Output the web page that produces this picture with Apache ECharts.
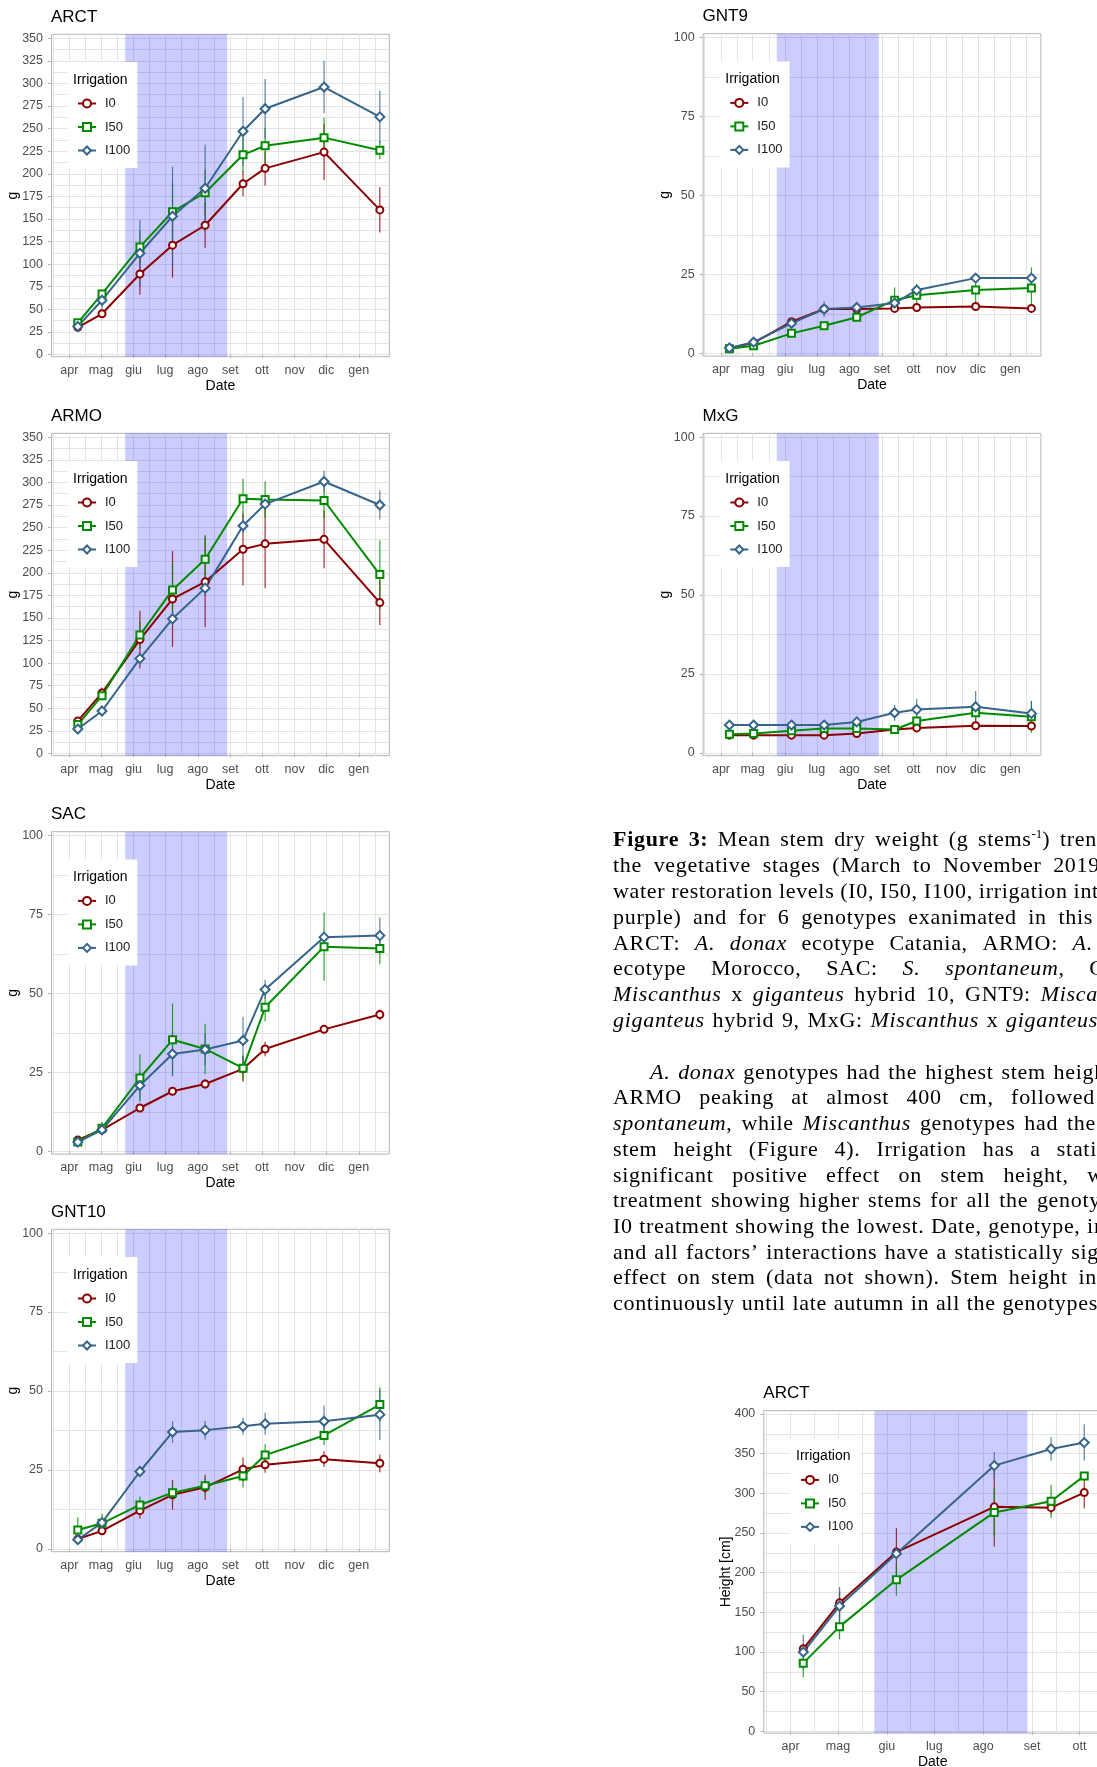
<!DOCTYPE html>
<html>
<head>
<meta charset="utf-8">
<title>Figure 3</title>
<script src="https://cdn.jsdelivr.net/npm/echarts@6.0.0/dist/echarts.min.js"></script>
<style>
  html, body { margin: 0; padding: 0; background: #fff; overflow: hidden; }
  #chart { position: absolute; left: 0; top: 0; width: 1097px; height: 1767px; }
  .cap { position: absolute; display: flex; justify-content: space-between; white-space: nowrap;
         font-family: 'Liberation Serif', 'Times New Roman', serif; font-size: 22px; letter-spacing: 0.7px;
         line-height: 26px; height: 26px; color: #000; }
  .cap sup { font-size: 13px; line-height: 0; letter-spacing: 0; }
</style>
</head>
<body>
<div id="chart"></div>
<div id="caption"></div>
<script>
// sampling dates
var sampleDates = ['2019-04-09', '2019-05-02', '2019-06-07', '2019-07-08', '2019-08-08',
                   '2019-09-13', '2019-10-04', '2019-11-29', '2020-01-21'];
var heightDates = ['2019-04-09', '2019-05-02', '2019-06-07', '2019-08-08', '2019-09-13', '2019-10-04'];
var monthStarts = ['2019-03-01', '2019-04-01', '2019-05-01', '2019-06-01', '2019-07-01', '2019-08-01',
                   '2019-09-01', '2019-10-01', '2019-11-01', '2019-12-01', '2020-01-01', '2020-02-01'];
var monthLabels = ['mar', 'apr', 'mag', 'giu', 'lug', 'ago', 'set', 'ott', 'nov', 'dic', 'gen', 'feb'];
var irrigationPeriod = ['2019-05-24', '2019-08-29'];
var irrigationLevels = ['I0', 'I50', 'I100'];

// stem dry weight (g), rows = I0, I50, I100
var arctMean = [[30, 45, 89, 121, 143, 189, 206, 224, 160],
                [35, 67, 119, 158, 179, 221, 231, 240, 226],
                [31, 60, 112, 153, 184, 247, 272, 296, 263]];
var arctErr  = [[3, 4, 23, 36, 25, 14, 19, 31, 25],
                [3, 5, 18, 32, 26, 20, 20, 22, 10],
                [3, 10, 37, 55, 48, 38, 33, 29, 29]];

var armoMean = [[36, 67, 126, 171, 190, 226, 232, 237, 167],
                [32, 64, 131, 181, 215, 282, 281, 280, 198],
                [27, 47, 105, 149, 183, 252, 276, 301, 275]];
var armoErr  = [[4, 6, 32, 53, 50, 40, 49, 32, 25],
                [4, 5, 15, 30, 27, 22, 20, 20, 38],
                [3, 4, 5, 8, 8, 8, 6, 12, 16]];

var sacMean  = [[3.6, 6.8, 13.7, 19, 21.3, 26.1, 32.4, 38.6, 43.3],
                [2.9, 7.3, 23.2, 35.3, 32.4, 26.3, 45.6, 64.8, 64.2],
                [2.9, 6.8, 20.8, 30.8, 32.2, 35.1, 51.2, 67.8, 68.3]];
var sacErr   = [[0.5, 0.5, 0.5, 0.8, 1.5, 4, 2.3, 0.8, 1.7],
                [0.5, 2, 7.5, 11.5, 8, 4, 4.5, 10.8, 5],
                [0.5, 1, 4.5, 7, 5, 7.5, 3, 1, 5.7]];

var gnt10Mean = [[3.1, 5.7, 12.1, 17.1, 19.5, 25.2, 26.6, 28.4, 27.1],
                 [6, 8.1, 13.9, 17.8, 20, 23.1, 29.7, 35.9, 45.7],
                 [2.9, 8.3, 24.5, 37, 37.6, 38.8, 39.6, 40.4, 42.5]];
var gnt10Err  = [[0.5, 0.8, 2.5, 4.7, 4, 3.8, 2.5, 2.5, 2.8],
                 [4, 3, 2.7, 2.5, 2.5, 3.7, 3.4, 3, 5.5],
                 [0.5, 1, 1.5, 3.4, 3, 2.7, 3.5, 5, 8]];

var gnt9Mean = [[1.6, 3.3, 10, 14, 14, 14.2, 14.5, 14.8, 14.2],
                [1.4, 2.4, 6.3, 8.7, 11.4, 16.8, 18.4, 20, 20.7],
                [1.7, 3.5, 9.5, 14, 14.5, 15.9, 20, 23.8, 23.8]];
var gnt9Err  = [[0.3, 0.3, 0.5, 0.5, 0.5, 0.5, 0.5, 0.5, 0.5],
                [0.3, 0.3, 0.5, 0.5, 0.8, 4, 3.5, 5, 6.5],
                [0.3, 0.5, 1, 2.5, 1, 1, 1, 1, 2]];

var mxgMean  = [[5.6, 5.6, 5.6, 5.6, 6.1, 7.4, 7.9, 8.6, 8.5],
                [5.9, 6.1, 7, 7.7, 7.7, 7.4, 10.1, 12.7, 11.4],
                [8.8, 8.8, 8.8, 8.8, 9.8, 12.7, 13.7, 14.6, 12.5]];
var mxgErr   = [[1, 0.5, 0.3, 0.3, 0.5, 1, 1, 0.5, 1],
                [1, 0.5, 0.5, 0.5, 0.5, 1, 1.5, 3, 5],
                [0.5, 0.5, 0.5, 0.5, 0.5, 2.5, 3.4, 5, 4]];

// stem height (cm), ARCT
var heightMean = [[104, 162, 226, 283, 282, 301],
                  [86, 132, 191, 276, 290, 322],
                  [100, 158, 224, 335, 356, 364]];
var heightErr  = [[5, 14, 30, 50, 8, 20],
                  [18, 16, 20, 31, 21, 5],
                  [22, 24, 5, 17, 15, 23]];

var FONT = "'Liberation Sans', Arial, sans-serif";
var lineColors = ['#8b0000', '#008b00', '#36648b'];
var symbols = ['emptyCircle', 'emptyRect', 'emptyDiamond'];
var symbolSizes = [7, 7, 9];
var PW = 337.8, PH = 322.4;

var panels = [
    {title: 'ARCT', mean: arctMean, err: arctErr, dates: sampleDates, left: 51.5, top: 34.3, lim: [-2.5, 354.4], yTop: 350, step: 25, yName: 'g', xEnd: '2020-01-30', legendDx: 15.5},
    {title: 'ARMO', mean: armoMean, err: armoErr, dates: sampleDates, left: 51.5, top: 433.3, lim: [-2.5, 354.4], yTop: 350, step: 25, yName: 'g', xEnd: '2020-01-30', legendDx: 15.5},
    {title: 'SAC', mean: sacMean, err: sacErr, dates: sampleDates, left: 51.5, top: 831.7, lim: [-0.9, 101.2], yTop: 100, step: 25, yName: 'g', xEnd: '2020-01-30', legendDx: 15.5},
    {title: 'GNT10', mean: gnt10Mean, err: gnt10Err, dates: sampleDates, left: 51.5, top: 1229.3, lim: [-0.9, 101.2], yTop: 100, step: 25, yName: 'g', xEnd: '2020-01-30', legendDx: 15.5},
    {title: 'GNT9', mean: gnt9Mean, err: gnt9Err, dates: sampleDates, left: 703.1, top: 33.7, lim: [-0.9, 101.2], yTop: 100, step: 25, yName: 'g', xEnd: '2020-01-30', legendDx: 16.2},
    {title: 'MxG', mean: mxgMean, err: mxgErr, dates: sampleDates, left: 703.1, top: 433.3, lim: [-0.9, 101.2], yTop: 100, step: 25, yName: 'g', xEnd: '2020-01-30', legendDx: 16.2},
    {title: 'ARCT', mean: heightMean, err: heightErr, dates: heightDates, left: 763.8, top: 1410.7, lim: [-2.2, 404.2], yTop: 400, step: 50, yName: 'Height [cm]', xEnd: '2019-10-15', legendDx: 26.2}
];

function dayNum(s) {
    var p = s.split('-');
    return (Date.UTC(+p[0], +p[1] - 1, +p[2]) - Date.UTC(2019, 0, 1)) / 86400000 + 1;
}

function seq(a, b, step) {
    var r = [];
    for (var v = a; v <= b + 1e-9; v += step) r.push(+v.toFixed(3));
    return r;
}

function nearest(arr, v) {
    var best = 0;
    for (var k = 1; k < arr.length; k++) {
        if (Math.abs(arr[k] - v) < Math.abs(arr[best] - v)) best = k;
    }
    return best;
}

var monthDays = monthStarts.map(dayNum);

var option = {
    animation: false,
    backgroundColor: '#fff',
    title: [], legend: [], grid: [], xAxis: [], yAxis: [], series: []
};

panels.forEach(function (p, i) {
    var xMin = dayNum('2019-03-15'), xMax = dayNum(p.xEnd);
    var inX = function (v) { return v > xMin && v < xMax; };
    var majorX = monthDays.filter(inX);
    var minorX = [];
    for (var k = 0; k + 1 < monthDays.length; k++) minorX.push((monthDays[k] + monthDays[k + 1]) / 2);
    var gridX = majorX.concat(minorX.filter(inX));
    var majorY = seq(0, p.yTop, p.step);
    var gridY = seq(0, p.yTop, p.step / 2);
    var xi = 2 * i, yi = 2 * i;

    option.grid.push({
        left: p.left, top: p.top, width: PW, height: PH,
        show: true, borderColor: '#b3b3b3', borderWidth: 1, backgroundColor: '#fff',
        containLabel: false, outerBoundsMode: 'none'
    });

    option.xAxis.push({
        type: 'value', gridIndex: i, position: 'bottom', min: xMin, max: xMax,
        axisLine: {show: false},
        axisTick: {show: false, customValues: gridX},
        splitLine: {show: true, lineStyle: {color: '#e3e3e3', width: 1}},
        axisLabel: {
            customValues: majorX, margin: 7, color: '#4d4d4d', fontSize: 12.5, fontFamily: FONT,
            formatter: function (v) { return monthLabels[nearest(monthDays, v)]; }
        },
        name: 'Date', nameLocation: 'middle', nameGap: 22, nameMoveOverlap: false,
        nameTextStyle: {color: '#000', fontSize: 14, fontFamily: FONT}
    }, {
        type: 'value', gridIndex: i, position: 'bottom', min: xMin, max: xMax,
        axisLine: {show: false}, axisLabel: {show: false}, splitLine: {show: false},
        axisTick: {show: true, length: 3.5, customValues: majorX, lineStyle: {color: '#b3b3b3'}}
    });

    option.yAxis.push({
        type: 'value', gridIndex: i, position: 'left', min: p.lim[0], max: p.lim[1],
        axisLine: {show: false},
        axisTick: {show: false, customValues: gridY},
        splitLine: {show: true, lineStyle: {color: '#e3e3e3', width: 1}},
        axisLabel: {customValues: majorY, margin: 8.5, color: '#4d4d4d', fontSize: 12.5, fontFamily: FONT},
        name: p.yName, nameLocation: 'middle', nameGap: 31, nameMoveOverlap: false,
        nameTextStyle: {color: '#000', fontSize: 14, fontFamily: FONT}
    }, {
        type: 'value', gridIndex: i, position: 'left', min: p.lim[0], max: p.lim[1],
        axisLine: {show: false}, axisLabel: {show: false}, splitLine: {show: false},
        axisTick: {show: true, length: 3.5, customValues: majorY, lineStyle: {color: '#b3b3b3'}}
    });

    // irrigation period shading
    option.series.push({
        type: 'line', xAxisIndex: xi, yAxisIndex: yi, data: [], silent: true, z: 1,
        markArea: {
            silent: true,
            itemStyle: {color: 'rgba(0, 0, 255, 0.2)', borderWidth: 0},
            data: [[{xAxis: dayNum(irrigationPeriod[0])}, {xAxis: dayNum(irrigationPeriod[1])}]]
        }
    });

    var xs = p.dates.map(dayNum);
    irrigationLevels.forEach(function (lev, j) {
        var color = lineColors[j];
        var bars = p.mean[j].map(function (m, k) { return [xs[k], m - p.err[j][k], m + p.err[j][k]]; });
        option.series.push({
            type: 'custom', name: lev + ' se', xAxisIndex: xi, yAxisIndex: yi, z: 2, silent: true,
            data: bars, encode: {x: 0, y: [1, 2]},
            renderItem: function (params, api) {
                var a = api.coord([api.value(0), api.value(1)]);
                var b = api.coord([api.value(0), api.value(2)]);
                return {
                    type: 'line',
                    shape: {x1: a[0], y1: a[1], x2: b[0], y2: b[1]},
                    style: {stroke: color, lineWidth: 1.2, opacity: 0.8}
                };
            }
        });
        option.series.push({
            type: 'line', name: lev, xAxisIndex: xi, yAxisIndex: yi, z: 3, silent: true,
            emphasis: {disabled: true},
            data: p.mean[j].map(function (m, k) { return [xs[k], m]; }),
            symbol: symbols[j], symbolSize: symbolSizes[j],
            lineStyle: {color: color, width: 2},
            itemStyle: {color: color, borderWidth: 1}
        });
    });

    option.title.push({
        text: p.title, left: p.left - 0.5, top: p.top - 25.5, padding: 0,
        textStyle: {fontSize: 17, fontWeight: 'normal', color: '#000', fontFamily: FONT}
    }, {
        text: 'Irrigation', left: p.left + p.legendDx + 6, top: p.top + 27.7 + 11, padding: 0,
        textStyle: {fontSize: 14, fontWeight: 'normal', color: '#000', fontFamily: FONT}
    });

    option.legend.push({
        orient: 'vertical', left: p.left + p.legendDx, top: p.top + 27.7,
        padding: [35, 7, 11, 10], itemGap: 10.5, itemWidth: 18, itemHeight: 10,
        backgroundColor: '#fff', selectedMode: false, data: irrigationLevels,
        textStyle: {fontSize: 13, color: '#1a1a1a', fontFamily: FONT, padding: [0, 0, 0, 4]}
    });
});

var myChart = echarts.init(document.getElementById('chart'));
myChart.setOption(option);

// caption and body text, line by line (justified)
var captionLines = [
    {y: 839.3, x: 613, r: 1097, html: '<b>Figure</b> <b>3:</b> Mean stem dry weight (g stems<sup>-1</sup>) tren'},
    {y: 865.1, x: 613, r: 1100, html: 'the vegetative stages (March to November 2019'},
    {y: 890.9, x: 613, r: 1099, html: 'water restoration levels (I0, I50, I100, irrigation int'},
    {y: 916.7, x: 613, r: 1093, html: 'purple) and for 6 genotypes exanimated in this'},
    {y: 942.5, x: 613, r: 1093, html: 'ARCT: <i>A.</i> <i>donax</i> ecotype Catania, ARMO: <i>A.</i>'},
    {y: 968.3, x: 613, r: 1106, html: 'ecotype Morocco, SAC: <i>S.</i> <i>spontaneum</i>, G'},
    {y: 994.1, x: 613, r: 1098, html: '<i>Miscanthus</i> x <i>giganteus</i> hybrid 10, GNT9: <i>Misca</i>'},
    {y: 1019.9, x: 613, r: 1098, html: '<i>giganteus</i> hybrid 9, MxG: <i>Miscanthus</i> x <i>giganteus</i>'},
    {y: 1071.7, x: 650, r: 1106, html: '<i>A.</i> <i>donax</i> genotypes had the highest stem heigh'},
    {y: 1097.4, x: 613, r: 1095, html: 'ARMO peaking at almost 400 cm, followed'},
    {y: 1123.1, x: 613, r: 1096, html: '<i>spontaneum</i>, while <i>Miscanthus</i> genotypes had the'},
    {y: 1148.8, x: 613, r: 1097, html: 'stem height (Figure 4). Irrigation has a stati'},
    {y: 1174.5, x: 613, r: 1104, html: 'significant positive effect on stem height, w'},
    {y: 1200.2, x: 613, r: 1101, html: 'treatment showing higher stems for all the genoty'},
    {y: 1225.9, x: 613, r: 1102, html: 'I0 treatment showing the lowest. Date, genotype, ir'},
    {y: 1251.6, x: 613, r: 1099, html: 'and all factors\u2019 interactions have a statistically sig'},
    {y: 1277.3, x: 613, r: 1097, html: 'effect on stem (data not shown). Stem height in'},
    {y: 1303.0, x: 613, r: 1098, html: 'continuously until late autumn in all the genotypes'}
];

var cap = document.getElementById('caption');
captionLines.forEach(function (ln) {
    var div = document.createElement('div');
    div.className = 'cap';
    div.style.left = ln.x + 'px';
    div.style.top = (ln.y - 13) + 'px';
    div.style.width = (ln.r - ln.x) + 'px';
    ln.html.split(' ').forEach(function (w) {
        var s = document.createElement('span');
        s.innerHTML = w;
        div.appendChild(s);
    });
    cap.appendChild(div);
});
</script>
</body>
</html>
